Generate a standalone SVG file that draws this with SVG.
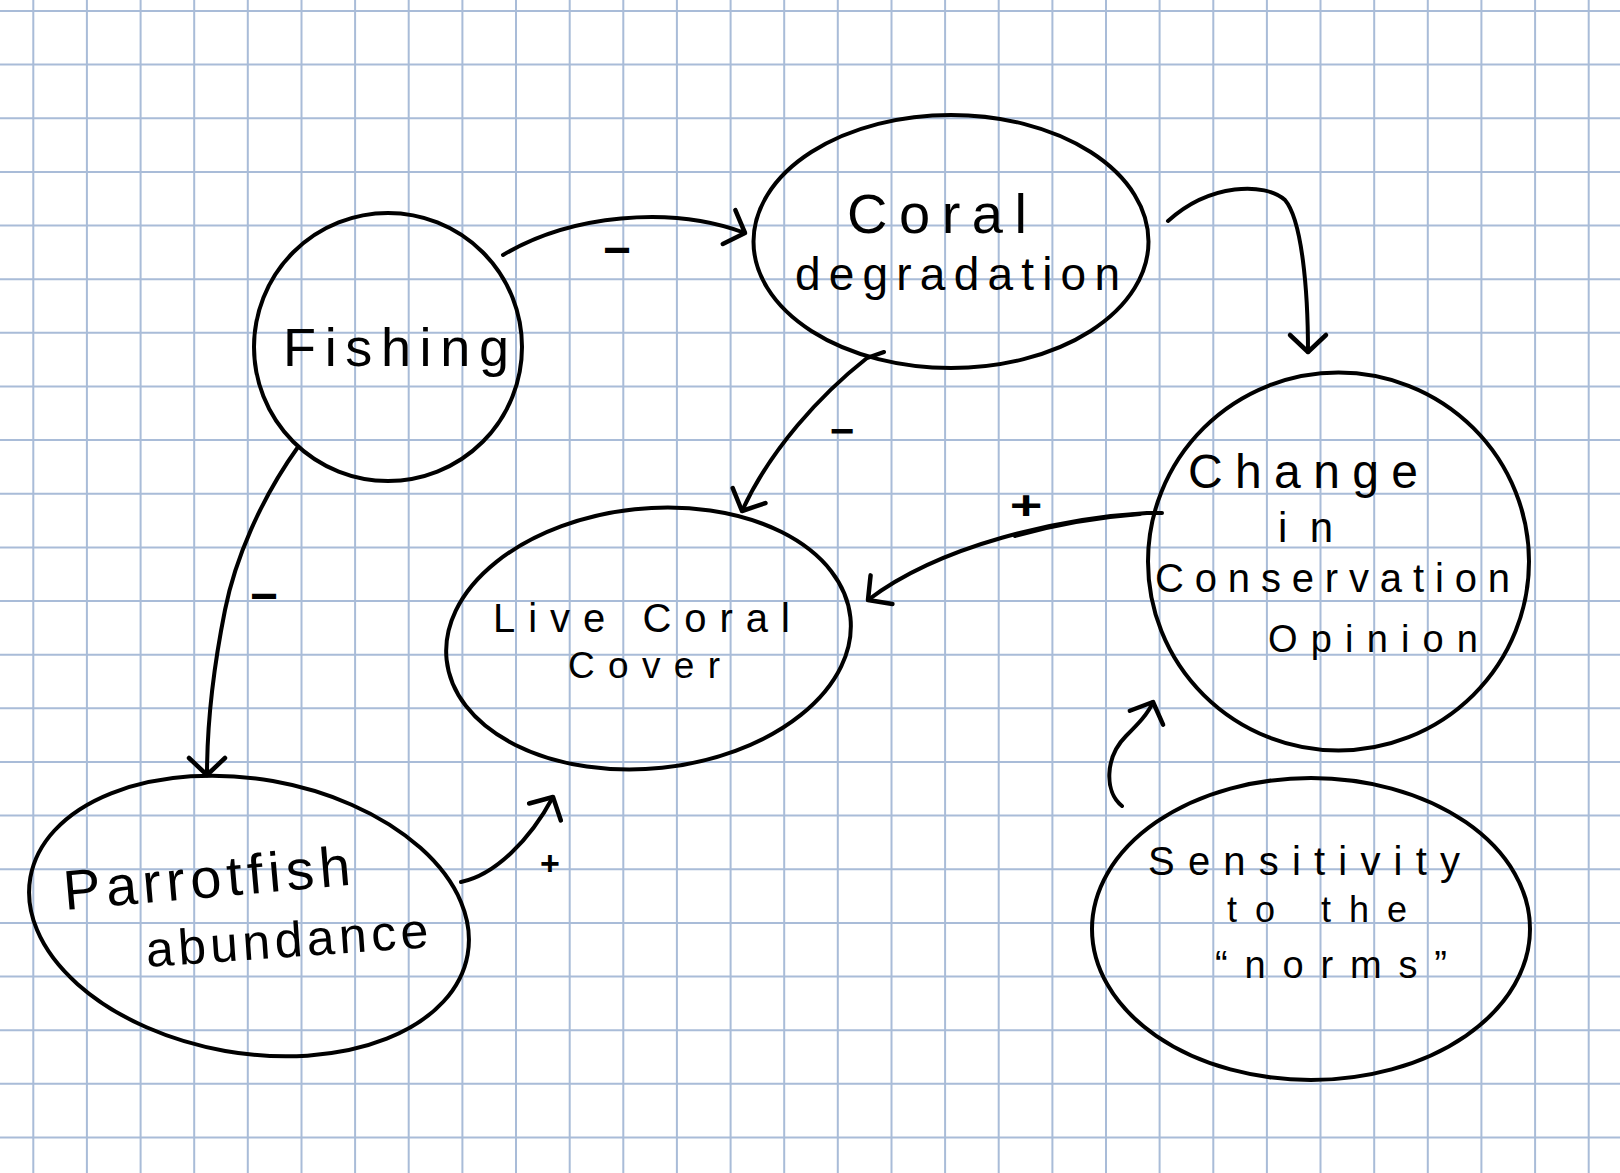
<svg xmlns="http://www.w3.org/2000/svg" width="1620" height="1173" viewBox="0 0 1620 1173">
<style>
.grid{stroke:#a9bcd8;stroke-width:2;fill:none}
.node{fill:none;stroke:#000;stroke-width:4}
.lbl{font-family:"Liberation Sans",Arial,sans-serif;fill:#000}
.edge{fill:none;stroke:#000;stroke-width:4;stroke-linecap:round;stroke-linejoin:round}
.sign{font-family:"Liberation Sans",Arial,sans-serif;font-weight:bold;fill:#000;text-anchor:middle}
</style>
<defs>
<marker id="arr" markerUnits="userSpaceOnUse" markerWidth="60" markerHeight="60" refX="0" refY="0" orient="auto" viewBox="-30 -30 60 60" overflow="visible">
<path d="M -17 -18 L 0 0 L -17 18" fill="none" stroke="#000" stroke-width="4.5" stroke-linecap="round" stroke-linejoin="round"/>
</marker>
</defs>
<rect x="0" y="0" width="1620" height="1173" fill="#ffffff"/>
<path class="grid" d="M33.3 0V1173M86.9 0V1173M140.6 0V1173M194.2 0V1173M247.8 0V1173M301.5 0V1173M355.1 0V1173M408.7 0V1173M462.4 0V1173M516 0V1173M569.7 0V1173M623.3 0V1173M676.9 0V1173M730.6 0V1173M784.2 0V1173M837.8 0V1173M891.5 0V1173M945.1 0V1173M998.7 0V1173M1052.4 0V1173M1106 0V1173M1159.6 0V1173M1213.3 0V1173M1266.9 0V1173M1320.5 0V1173M1374.2 0V1173M1427.8 0V1173M1481.4 0V1173M1535.1 0V1173M1588.7 0V1173M0 11H1620M0 64.6H1620M0 118.3H1620M0 171.9H1620M0 225.6H1620M0 279.2H1620M0 332.8H1620M0 386.5H1620M0 440.1H1620M0 493.8H1620M0 547.4H1620M0 601H1620M0 654.7H1620M0 708.3H1620M0 762H1620M0 815.6H1620M0 869.2H1620M0 922.9H1620M0 976.5H1620M0 1030.2H1620M0 1083.8H1620M0 1137.4H1620"/>

<g id="fishing">
<ellipse class="node" cx="388" cy="347" rx="134" ry="134"/>
<text class="lbl" x="283" y="366" font-size="54" textLength="226" lengthAdjust="spacing">Fishing</text>
</g>
<g id="coral-degradation">
<ellipse class="node" cx="951" cy="241.5" rx="197.5" ry="126.5"/>
<text class="lbl" x="847" y="233" font-size="56" textLength="180" lengthAdjust="spacing">Coral</text>
<text class="lbl" x="795" y="290" font-size="46" textLength="325" lengthAdjust="spacing">degradation</text>
</g>
<g id="change-in-conservation-opinion">
<ellipse class="node" cx="1338.5" cy="561.5" rx="190.5" ry="189"/>
<text class="lbl" x="1188" y="488" font-size="48" textLength="230" lengthAdjust="spacing">Change</text>
<text class="lbl" x="1278" y="542" font-size="42" textLength="55" lengthAdjust="spacing">in</text>
<text class="lbl" x="1155" y="592" font-size="40" textLength="355" lengthAdjust="spacing">Conservation</text>
<text class="lbl" x="1268" y="652" font-size="38" textLength="210" lengthAdjust="spacing">Opinion</text>
</g>
<g id="live-coral-cover">
<ellipse class="node" cx="648.5" cy="638.5" rx="203" ry="130" transform="rotate(-6 648.5 638.5)"/>
<text class="lbl" x="493" y="632" font-size="40" textLength="297" lengthAdjust="spacing">Live Coral</text>
<text class="lbl" x="568" y="678" font-size="37" textLength="152" lengthAdjust="spacing">Cover</text>
</g>
<g id="parrotfish-abundance">
<ellipse class="node" cx="249" cy="916" rx="222" ry="137" transform="rotate(10 249 916)"/>
<text class="lbl" x="65" y="910" font-size="56" textLength="288" lengthAdjust="spacing" transform="rotate(-5 65 910)">Parrotfish</text>
<text class="lbl" x="147" y="967" font-size="50" textLength="283" lengthAdjust="spacing" transform="rotate(-4 147 967)">abundance</text>
</g>
<g id="sensitivity-to-the-norms">
<ellipse class="node" cx="1311" cy="929" rx="219" ry="151"/>
<text class="lbl" x="1148" y="875" font-size="40" textLength="312" lengthAdjust="spacing">Sensitivity</text>
<text class="lbl" x="1227" y="922" font-size="36" textLength="180" lengthAdjust="spacing">to the</text>
<text class="lbl" x="1215" y="978" font-size="38" textLength="232" lengthAdjust="spacing">“norms”</text>
</g>

<g id="connectors">
<path class="edge" marker-end="url(#arr)" d="M 503 255 C 570 215, 670 205, 745 233"/>
<path class="edge" marker-end="url(#arr)" d="M 1168 221 C 1210 183, 1265 182, 1285 200 C 1302 220, 1308 290, 1308 352"/>
<path class="edge" marker-end="url(#arr)" d="M 884 352 L 867 358 C 820 395, 770 450, 742 511"/>
<path class="edge" marker-end="url(#arr)" d="M 1162 513 L 1147 513 C 1060 518, 940 545, 868 600"/>
<path class="edge" stroke-width="7" d="M 1140 514 Q 1075 519 1015 536"/>
<path class="edge" marker-end="url(#arr)" d="M 298 447 C 260 500, 235 560, 225 610 C 215 660, 207 720, 207 775"/>
<path class="edge" marker-end="url(#arr)" d="M 461 882 C 495 875, 530 840, 553 797"/>
<path class="edge" marker-end="url(#arr)" d="M 1122 806 C 1104 792, 1105 757, 1126 736 C 1138 724, 1148 714, 1153 702"/>
<text class="sign" x="617" y="266" font-size="48">−</text>
<text class="sign" x="842" y="445" font-size="42">−</text>
<text class="sign" x="264" y="612" font-size="48">−</text>
<text class="sign" x="1026" y="519" font-size="40" transform="translate(1026 0) scale(1.4 1) translate(-1026 0)">+</text>
<text class="sign" x="550" y="875" font-size="34">+</text>
</g>
</svg>
